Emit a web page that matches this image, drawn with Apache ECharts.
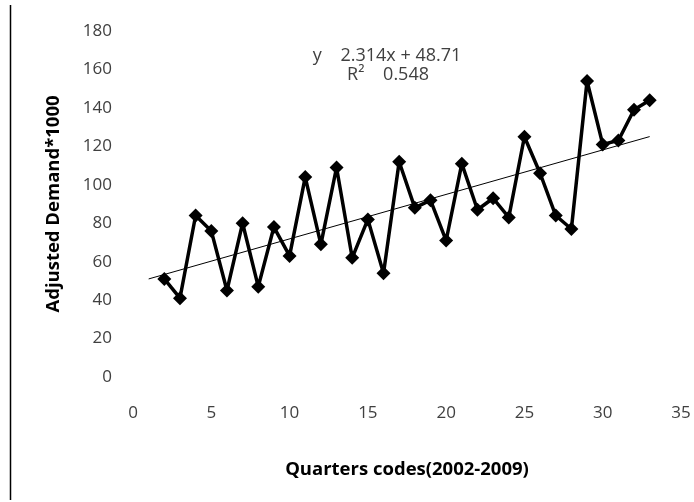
<!DOCTYPE html>
<html>
<head>
<meta charset="utf-8">
<script src="https://cdn.jsdelivr.net/npm/echarts@6/dist/echarts.min.js"></script>
<style>
html,body{margin:0;padding:0;background:#fff;}
#chart{width:694px;height:502px;}
</style>
</head>
<body>
<div id="chart"></div>
<script>
// Quarter codes and adjusted demand (*1000)
var quarters = [2,3,4,5,6,7,8,9,10,11,12,13,14,15,16,17,18,19,20,21,22,23,24,25,26,27,28,29,30,31,32,33];
var demand = [51,41,84,76,45,80,47,78,63,104,69,109,62,82,54,112,88,92,71,111,87,93,83,125,106,84,77,154,121,123,139,144];
// Linear trend line end points (y = 2.314x + 48.71)
var trendX = [1, 33];
var trendY = [51.02, 125.07];
var eqLine1 = 'y    2.314x + 48.71';
var eqLine2 = 'R\u00b2    0.548';
var xTitle = 'Quarters codes(2002-2009)';
var yTitle = 'Adjusted Demand*1000';

var FONT = 'Open Sans';
var chart = echarts.init(document.getElementById('chart'));
chart.setOption({
  animation: false,
  backgroundColor: '#fff',
  grid: {left: 133, right: 13, top: 31, bottom: 125, containLabel: false},
  xAxis: {
    type: 'value', min: 0, max: 35, interval: 5,
    axisLine: {show: false}, axisTick: {show: false}, splitLine: {show: false},
    axisLabel: {color: '#404040', fontFamily: FONT, fontSize: 17, margin: 28},
    name: xTitle, nameLocation: 'middle', nameGap: 83,
    nameTextStyle: {color: '#000', fontFamily: FONT, fontSize: 18.5, fontWeight: 'bold'}
  },
  yAxis: {
    type: 'value', min: 0, max: 180, interval: 20,
    axisLine: {show: false}, axisTick: {show: false}, splitLine: {show: false},
    axisLabel: {color: '#404040', fontFamily: FONT, fontSize: 17, margin: 21},
    name: yTitle, nameLocation: 'middle', nameGap: 70, nameRotate: 90,
    nameTextStyle: {color: '#000', fontFamily: FONT, fontSize: 18.5, fontWeight: 'bold'}
  },
  graphic: [
    {type: 'line', shape: {x1: 10.5, y1: 5, x2: 10.5, y2: 500}, style: {stroke: '#000', lineWidth: 1.5}},
    {type: 'text', x: 387, y: 56, style: {text: eqLine1, fill: '#404040', font: '18px "Open Sans"', textAlign: 'center', textVerticalAlign: 'middle'}},
    {type: 'text', x: 388, y: 75, style: {text: eqLine2, fill: '#404040', font: '18px "Open Sans"', textAlign: 'center', textVerticalAlign: 'middle'}}
  ],
  series: [
    {
      type: 'line',
      data: trendX.map(function (x, i) { return [x, trendY[i]]; }),
      symbol: 'none',
      lineStyle: {color: '#000', width: 1},
      z: 1
    },
    {
      type: 'line',
      data: quarters.map(function (q, i) { return [q, demand[i]]; }),
      symbol: 'diamond', symbolSize: 14,
      itemStyle: {color: '#000'},
      lineStyle: {color: '#000', width: 3.5},
      z: 2
    }
  ]
});
</script>
</body>
</html>
